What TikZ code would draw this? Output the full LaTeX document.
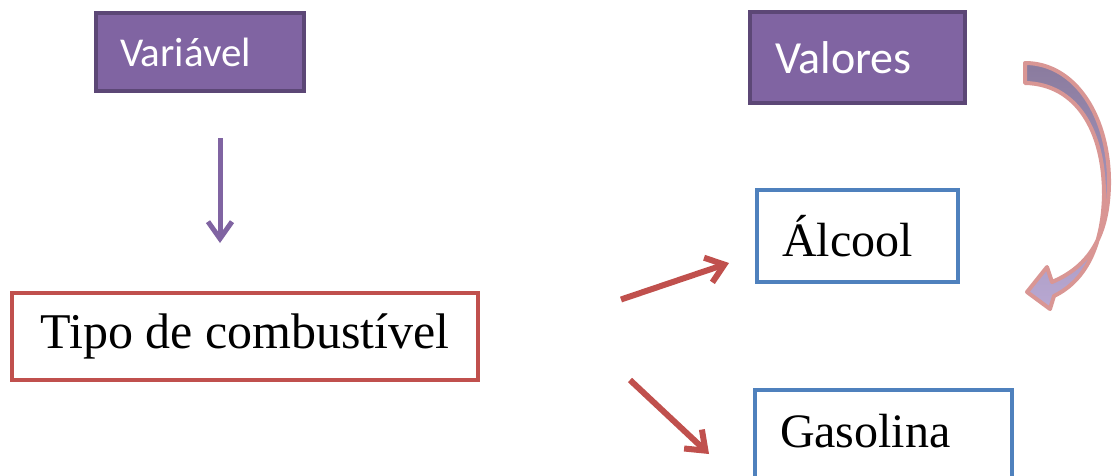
\documentclass[tikz,border=0pt]{standalone}
\usepackage{fontspec}
\setsansfont{Carlito}
\newfontfamily\labelserif{Liberation Serif}
\usetikzlibrary{arrows.meta,calc}

\definecolor{vpurple}{HTML}{8064A2}
\definecolor{vpurpledark}{HTML}{5C4776}
\definecolor{vred}{HTML}{C0504D}
\definecolor{vblue}{HTML}{4F81BD}
\definecolor{curvetop}{HTML}{8A7B9E}
\definecolor{curvebottom}{HTML}{B8A8D2}
\definecolor{curveedge}{HTML}{D99694}

\tikzset{
  headbox/.style={draw=vpurpledark, fill=vpurple, line width=4pt, text=white,
    font=\sffamily, align=left, inner ysep=0pt},
  valuebox/.style={draw=vblue, fill=white, line width=4pt, text=black,
    font=\labelserif\fontsize{48}{56}\selectfont, align=left, inner ysep=0pt},
  varbox/.style={draw=vred, fill=white, line width=4pt, text=black,
    font=\labelserif\fontsize{50}{58}\selectfont, inner ysep=0pt},
  purplearrow/.style={draw=vpurple, line width=5pt,
    -{Straight Barb[length=17pt,width=24pt,line width=5pt]}},
  redarrow/.style={draw=vred, line width=6pt,
    -{Straight Barb[length=17pt,width=26pt,line width=6pt]}},
}

\begin{document}
\begin{tikzpicture}[x=1pt,y=-1pt]
\useasboundingbox (0,0) rectangle (1112,475);

% heading boxes
\node[headbox, font=\sffamily\fontsize{41}{48}\selectfont,
      minimum width=208pt, minimum height=78pt, text width=160pt, inner xsep=24pt]
  (var) at (200,52) {Variável};
\node[headbox, font=\sffamily\fontsize{46}{54}\selectfont,
      minimum width=215pt, minimum height=91pt, text width=165pt, inner xsep=25pt]
  (val) at (857.5,57.5) {Valores};

% variable and its values
\node[varbox, minimum width=466pt, minimum height=87pt] (tipo) at (245,336.5)
  {Tipo de combustível};
\node[valuebox, minimum width=201pt, minimum height=92pt, text width=151pt,
      inner xsep=25pt] (alc) at (857.5,236) {Álcool};
\node[valuebox, anchor=north west, text height=57pt, text depth=40pt,
      text width=207pt, inner xsep=25pt, minimum width=257pt]
  (gas) at (753,388) {Gasolina};

% connectors
\draw[purplearrow] ($(var.south)+(20,45)$) -- ($(tipo.north)+(-25,-48)$);
\draw[redarrow] ($(tipo.east)+(141,-37)$) -- ($(alc.west)+(-26,27)$);
\draw[redarrow] ($(tipo.east)+(150,43.5)$) -- ($(gas.west)+(-44,15.5)$);

% curved block arrow from the values heading down to the values
\path[draw=curveedge, line width=4pt, line join=round,
      top color=curvetop, bottom color=curvebottom]
  (1025,63) .. controls (1076,63) and (1110,118) .. (1109,185)
  .. controls (1108,235) and (1090,266) .. (1052,282)
  -- (1047,267) -- (1027,292) -- (1050,309) -- (1054,296)
  .. controls (1089,279) and (1103,240) .. (1104,195)
  .. controls (1104,130) and (1076,84) .. (1025,83) -- cycle;
\end{tikzpicture}
\end{document}
